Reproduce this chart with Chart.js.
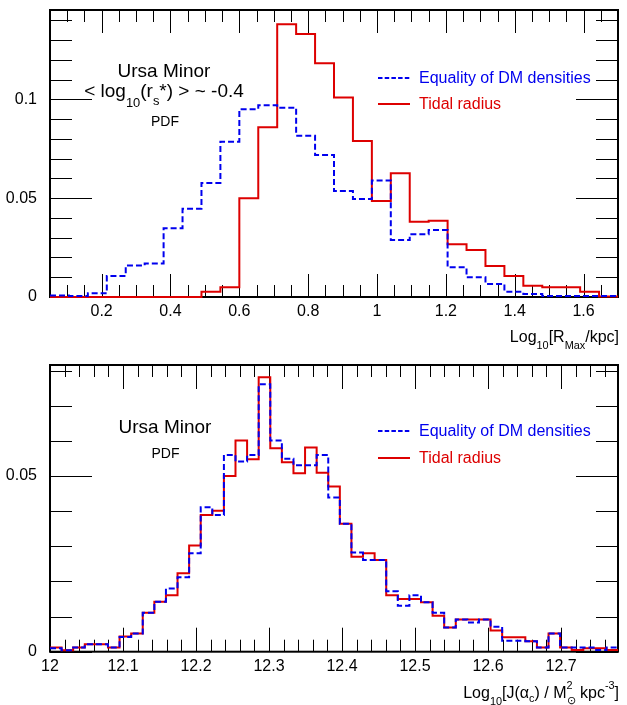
<!DOCTYPE html>
<html>
<head>
<meta charset="utf-8">
<script src="https://cdn.jsdelivr.net/npm/chart.js@4.4.1/dist/chart.umd.min.js"></script>
<style>
  body { margin: 0; background: #fff; }
  #page { position: relative; width: 627px; height: 705px; background: #fff; overflow: hidden; }
  canvas { position: absolute; left: 0; }
  .t { position: absolute; white-space: nowrap; font-family: "Liberation Sans", Arial, sans-serif; line-height: 1; color: #000; }
  .c { transform: translateX(-50%); }
  .t sub, .t sup { font-size: 0.68em; line-height: 0; vertical-align: baseline; position: relative; }
  .sw { position: absolute; }
  .blue { color: #0000ee; }
  .red { color: #dd0000; }
</style>
</head>
<body>
<div id="page">
  <canvas id="rmaxChart" width="627" height="350" style="top:0"></canvas>
  <canvas id="jChart" width="627" height="355" style="top:350px"></canvas>

  <!-- top panel annotations -->
  <div class="t c" style="left:164px;top:60.6px;font-size:19px">Ursa Minor</div>
  <div class="t c" style="left:164px;top:80.6px;font-size:19px">&lt; log<sub style="top:10px">10</sub>(r<sub style="top:8px">s</sub>*) &gt; ~ -0.4</div>
  <div class="t c" style="left:165px;top:114px;font-size:14px">PDF</div>
  <svg class="sw" style="left:378px;top:77px" width="32" height="2"><line x1="0" y1="1" x2="32" y2="1" stroke="#0000ee" stroke-width="2" stroke-dasharray="4.5 2.2"/></svg>
  <div class="t blue" style="left:419px;top:70px;font-size:16px">Equality of DM densities</div>
  <svg class="sw" style="left:378px;top:103px" width="32" height="2"><line x1="0" y1="1" x2="32" y2="1" stroke="#dd0000" stroke-width="2"/></svg>
  <div class="t red" style="left:419px;top:96px;font-size:16px">Tidal radius</div>
  <div class="t" style="right:8px;top:328.5px;font-size:16px">Log<sub style="top:7px">10</sub>[R<sub style="top:7px">Max</sub>/kpc]</div>

  <!-- bottom panel annotations -->
  <div class="t c" style="left:165px;top:417px;font-size:19px">Ursa Minor</div>
  <div class="t c" style="left:165.5px;top:445.5px;font-size:14px">PDF</div>
  <svg class="sw" style="left:378px;top:430px" width="32" height="2"><line x1="0" y1="1" x2="32" y2="1" stroke="#0000ee" stroke-width="2" stroke-dasharray="4.5 2.2"/></svg>
  <div class="t blue" style="left:419px;top:423px;font-size:16px">Equality of DM densities</div>
  <svg class="sw" style="left:378px;top:457px" width="32" height="2"><line x1="0" y1="1" x2="32" y2="1" stroke="#dd0000" stroke-width="2"/></svg>
  <div class="t red" style="left:419px;top:450px;font-size:16px">Tidal radius</div>
  <div class="t" style="right:8px;top:684.5px;font-size:16px">Log<sub style="top:7px">10</sub>[J(α<sub style="top:4px">c</sub>) / M<sup style="top:-9px">2</sup><sub style="top:6px;margin-left:-6px">⊙</sub> kpc<sup style="top:-9px">-3</sup>]</div>
</div>

<script>
// log10(Rmax/kpc): 30 bins of 0.055 starting at 0.05
const rmaxBinStart = 0.05;
const rmaxBinWidth = 0.055;
const rmaxEquality = [0.0008, 0.0005, 0.0019, 0.0106, 0.0159, 0.0170, 0.0348, 0.0447, 0.0577, 0.0786,
                      0.0950, 0.0970, 0.0958, 0.0816, 0.0719, 0.0536, 0.0496, 0.0589, 0.0288, 0.0317,
                      0.0339, 0.0150, 0.0100, 0.0066, 0.0027, 0.0015, 0.0005, 0.0005, 0.0005, 0.0005];
const rmaxTidal = [0, 0, 0, 0, 0, 0, 0, 0, 0.0027, 0.0049,
                   0.0499, 0.0859, 0.1380, 0.1331, 0.1183, 0.1009, 0.0789, 0.0486, 0.0626, 0.0381,
                   0.0386, 0.0267, 0.0238, 0.0157, 0.0106, 0.0057, 0.0049, 0.0049, 0.0027, 0.0003];
const rmaxXTicks = [0.2, 0.4, 0.6, 0.8, 1, 1.2, 1.4, 1.6];
const rmaxYTicks = [0, 0.05, 0.1];

// log10(J): 49 bins starting at 12.0
const jBinStart = 12.0;
const jBinWidth = 0.01588;
const jEquality = [0.0010, 0.0004, 0.0012, 0.0021, 0.0021, 0.0012, 0.0042, 0.0052, 0.0111, 0.0142,
                   0.0180, 0.0212, 0.0280, 0.0411, 0.0389, 0.0560, 0.0541, 0.0560, 0.0761, 0.0601,
                   0.0549, 0.0531, 0.0531, 0.0560, 0.0439, 0.0364, 0.0282, 0.0261, 0.0261, 0.0172,
                   0.0131, 0.0161, 0.0141, 0.0111, 0.0069, 0.0092, 0.0083, 0.0092, 0.0071, 0.0031,
                   0.0031, 0.0030, 0.0012, 0.0052, 0.0012, 0.0012, 0.0012, 0.0005, 0.0012];
const jTidal = [0.0012, 0.0004, 0.0012, 0.0021, 0.0021, 0.0012, 0.0043, 0.0052, 0.0111, 0.0142,
                0.0161, 0.0223, 0.0302, 0.0389, 0.0401, 0.0500, 0.0601, 0.0548, 0.0781, 0.0579,
                0.0539, 0.0508, 0.0581, 0.0509, 0.0470, 0.0364, 0.0270, 0.0280, 0.0261, 0.0161,
                0.0150, 0.0150, 0.0141, 0.0102, 0.0069, 0.0092, 0.0092, 0.0092, 0.0060, 0.0041,
                0.0041, 0.0030, 0.0012, 0.0052, 0.0012, 0.0005, 0.0010, 0.0010, 0.0005];
const jXTicks = [12, 12.1, 12.2, 12.3, 12.4, 12.5, 12.6, 12.7];
const jYTicks = [0, 0.05];

const BLUE = '#0000ee';
const RED = '#dd0000';
const FONT = { family: '"Liberation Sans", Arial, sans-serif', size: 16 };

// Turn bin contents into points for a stepped line (last point closes the final bin).
function histPoints(start, width, values) {
    const pts = values.map((v, i) => ({ x: start + i * width, y: v }));
    pts.push({ x: start + values.length * width, y: values[values.length - 1] });
    return pts;
}

function isMultiple(v, step) {
    const q = v / step;
    return Math.abs(q - Math.round(q)) < 1e-6;
}

// ROOT-style frame: inward ticks on all four sides, long ones on major values.
// Drawn before the histograms so lines lying on zero stay visible.
const frameTicks = {
    id: 'frameTicks',
    beforeDatasetsDraw(chart, args, o) {
        const { ctx, chartArea: a, scales: { x, y } } = chart;
        ctx.save();
        ctx.strokeStyle = '#000';
        ctx.lineWidth = 1;
        ctx.beginPath();
        for (let i = Math.ceil(x.min / o.xStep - 1e-6); i * o.xStep <= x.max + 1e-9; i++) {
            const v = i * o.xStep;
            const px = Math.round(x.getPixelForValue(v)) + 0.5;
            const len = isMultiple(v, o.xMajor) ? o.xLong : o.xShort;
            ctx.moveTo(px, a.bottom); ctx.lineTo(px, a.bottom - len);
            ctx.moveTo(px, a.top); ctx.lineTo(px, a.top + len);
        }
        for (let i = Math.ceil(y.min / o.yStep - 1e-6); i * o.yStep <= y.max + 1e-9; i++) {
            const v = i * o.yStep;
            const py = Math.round(y.getPixelForValue(v)) + 0.5;
            const len = isMultiple(v, o.yMajor) ? o.yLong : o.yShort;
            ctx.moveTo(a.left, py); ctx.lineTo(a.left + len, py);
            ctx.moveTo(a.right, py); ctx.lineTo(a.right - len, py);
        }
        ctx.stroke();
        ctx.lineWidth = 2;
        ctx.strokeRect(a.left, a.top, a.right - a.left, a.bottom - a.top);
        ctx.restore();
    }
};

function renderHistPanel(canvasId, p) {
    const ctx = document.getElementById(canvasId).getContext('2d');
    return new Chart(ctx, {
        type: 'line',
        data: {
            datasets: [
                {
                    label: 'Equality of DM densities',
                    data: histPoints(p.binStart, p.binWidth, p.equality),
                    borderColor: BLUE,
                    borderWidth: 2,
                    borderDash: [6, 3],
                    stepped: true,
                    pointRadius: 0,
                    fill: false,
                    clip: false,
                    order: 0
                },
                {
                    label: 'Tidal radius',
                    data: histPoints(p.binStart, p.binWidth, p.tidal),
                    borderColor: RED,
                    borderWidth: 2,
                    stepped: true,
                    pointRadius: 0,
                    fill: false,
                    clip: false,
                    order: 1
                }
            ]
        },
        options: {
            responsive: false,
            animation: false,
            devicePixelRatio: 1,
            layout: { padding: { top: p.top, right: 9, left: 0, bottom: 0 } },
            scales: {
                x: {
                    type: 'linear',
                    min: p.xMin,
                    max: p.xMax,
                    grid: { display: false, drawTicks: false },
                    border: { display: false },
                    ticks: { font: FONT, color: '#000', padding: 5, autoSkip: false, maxRotation: 0,
                             callback: v => String(v) },
                    afterBuildTicks: s => { s.ticks = p.xTicks.map(v => ({ value: v })); },
                    afterFit: s => { s.height = p.xAxisHeight; s.paddingLeft = 0; s.paddingRight = 0; }
                },
                y: {
                    type: 'linear',
                    min: 0,
                    max: p.yMax,
                    grid: { display: false, drawTicks: false },
                    border: { display: false },
                    ticks: { font: FONT, color: '#000', padding: 13, autoSkip: false,
                             callback: v => String(v) },
                    afterBuildTicks: s => { s.ticks = p.yTicks.map(v => ({ value: v })); },
                    afterFit: s => { s.width = 50; s.paddingTop = 0; s.paddingBottom = 0; }
                }
            },
            plugins: {
                legend: { display: false },
                tooltip: { enabled: false },
                frameTicks: p.ticks
            }
        },
        plugins: [frameTicks]
    });
}

renderHistPanel('rmaxChart', {
    binStart: rmaxBinStart, binWidth: rmaxBinWidth,
    equality: rmaxEquality, tidal: rmaxTidal,
    xMin: 0.05, xMax: 1.7, yMax: 0.1452,
    xTicks: rmaxXTicks, yTicks: rmaxYTicks,
    top: 10, xAxisHeight: 53,
    ticks: { xStep: 0.05, xMajor: 0.2, xLong: 23, xShort: 12,
             yStep: 0.01, yMajor: 0.05, yLong: 42, yShort: 22 }
});

renderHistPanel('jChart', {
    binStart: jBinStart, binWidth: jBinWidth,
    equality: jEquality, tidal: jTidal,
    xMin: 12.0, xMax: 12.778, yMax: 0.0816,
    xTicks: jXTicks, yTicks: jYTicks,
    top: 15, xAxisHeight: 53.3,
    ticks: { xStep: 0.02, xMajor: 0.1, xLong: 24, xShort: 12,
             yStep: 0.01, yMajor: 0.05, yLong: 42, yShort: 22 }
});
</script>
</body>
</html>
